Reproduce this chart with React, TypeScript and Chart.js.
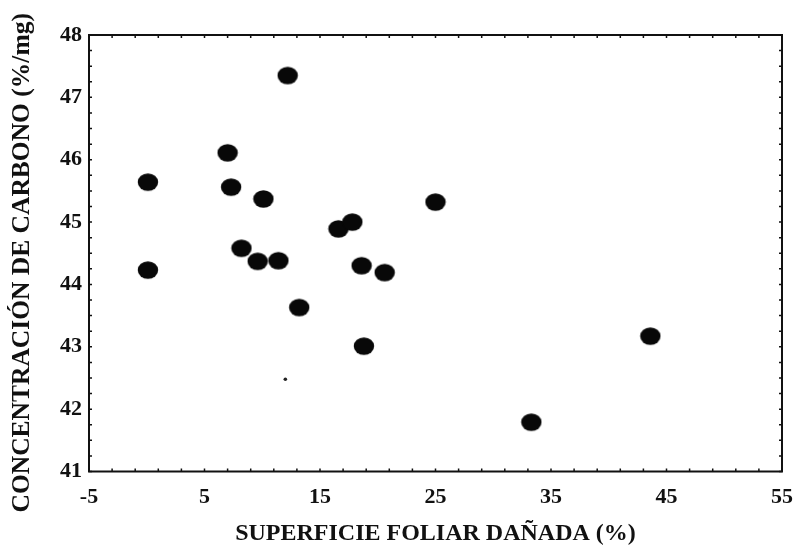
import React, { useEffect, useRef } from "react";
import { Chart, registerables } from "chart.js";

Chart.register(...registerables);

// Data
const damagedLeafArea: number[] = [12.2, 7.0, 0.1, 7.3, 10.1, 16.6, 17.8, 8.2, 9.6, 11.4, 18.6, 20.6, 0.1, 13.2, 18.8, 25.0, 43.6, 33.3];
const carbonConcentration: number[] = [47.35, 46.11, 45.64, 45.56, 45.37, 44.89, 45.0, 44.58, 44.37, 44.38, 44.3, 44.19, 44.23, 43.63, 43.01, 45.32, 43.17, 41.79];
const smallDotX: number[] = [12.0];
const smallDotY: number[] = [42.48];

const xTickLabels: number[] = [-5, 5, 15, 25, 35, 45, 55];
const yTickLabels: number[] = [41, 42, 43, 44, 45, 46, 47, 48];

const xTitle = "SUPERFICIE FOLIAR DAÑADA (%)";
const yTitle = "CONCENTRACIÓN DE CARBONO (%/mg)   ";

const FONT = "'Liberation Serif', 'Times New Roman', serif";
const INK = "#111111";

function makeEllipse(): HTMLCanvasElement {
  const c = document.createElement("canvas");
  c.width = 22;
  c.height = 20;
  const g = c.getContext("2d")!;
  g.fillStyle = "#080808";
  g.beginPath();
  g.ellipse(11, 10, 10.2, 8.8, 0, 0, Math.PI * 2);
  g.fill();
  return c;
}

const frameAndTicks = {
  id: "frameAndTicks",
  afterDraw(chart: any) {
    const { ctx, chartArea } = chart;
    const xs = chart.scales.x;
    const ys = chart.scales.y;
    const { left, right, top, bottom } = chartArea;
    ctx.save();
    ctx.strokeStyle = INK;
    ctx.lineWidth = 2;
    ctx.strokeRect(left, top, right - left, bottom - top);
    ctx.lineWidth = 1.5;
    ctx.beginPath();
    for (let v = xs.min; v <= xs.max + 1e-9; v += 2) {
      const px = xs.getPixelForValue(v);
      ctx.moveTo(px, bottom);
      ctx.lineTo(px, bottom - 3);
      ctx.moveTo(px, top);
      ctx.lineTo(px, top + 3);
    }
    for (let v = ys.min; v <= ys.max + 1e-9; v += 0.25) {
      const py = ys.getPixelForValue(v);
      ctx.moveTo(left, py);
      ctx.lineTo(left + 3, py);
      ctx.moveTo(right, py);
      ctx.lineTo(right - 3, py);
    }
    ctx.stroke();
    ctx.restore();
  },
};

export default function App() {
  const ref = useRef<HTMLCanvasElement | null>(null);

  useEffect(() => {
    if (!ref.current) return;
    const ellipse = makeEllipse();
    const mainPts = damagedLeafArea.map((x, i) => ({ x, y: carbonConcentration[i] }));
    const dotPts = smallDotX.map((x, i) => ({ x, y: smallDotY[i] }));
    const chart = new Chart(ref.current, {
      type: "scatter",
      data: {
        datasets: [
          {
            data: mainPts,
            pointStyle: ellipse as any,
            backgroundColor: "#080808",
            borderColor: "#080808",
          },
          {
            data: dotPts,
            pointStyle: "circle",
            pointRadius: 1.8,
            backgroundColor: "#222",
            borderColor: "#222",
            borderWidth: 0,
          },
        ],
      },
      plugins: [frameAndTicks],
      options: {
        animation: false,
        responsive: false,
        devicePixelRatio: 1,
        layout: { padding: { top: 35, right: 13, left: 0, bottom: 0 } },
        plugins: {
          legend: { display: false },
          tooltip: { enabled: false },
        },
        scales: {
          x: {
            type: "linear",
            min: -5,
            max: 55,
            afterBuildTicks: (scale: any) => {
              scale.ticks = xTickLabels.map((v) => ({ value: v }));
            },
            afterFit: (scale: any) => {
              scale.height = 77.5;
              scale.paddingLeft = 0;
              scale.paddingRight = 0;
            },
            grid: { display: false, drawTicks: false },
            border: { display: false },
            ticks: {
              padding: 13,
              color: INK,
              font: { family: FONT, size: 22, weight: "bold" },
              maxRotation: 0,
              callback: (v: any) => String(v),
            },
            title: {
              display: true,
              text: xTitle,
              color: INK,
              font: { family: FONT, size: 24, weight: "bold" },
              padding: { top: 0, bottom: 0.5 },
            },
          },
          y: {
            type: "linear",
            min: 41,
            max: 48,
            afterBuildTicks: (scale: any) => {
              scale.ticks = yTickLabels.map((v) => ({ value: v }));
            },
            afterFit: (scale: any) => {
              scale.width = 89;
              scale.paddingTop = 0;
              scale.paddingBottom = 0;
            },
            grid: { display: false, drawTicks: false },
            border: { display: false },
            ticks: {
              padding: 7,
              color: INK,
              font: { family: FONT, size: 22, weight: "bold" },
              callback: (v: any) => String(v),
            },
            title: {
              display: true,
              text: yTitle,
              color: INK,
              font: { family: FONT, size: 25.5, weight: "bold" },
              padding: { top: 7, bottom: 0 },
            },
          },
        },
      },
    });
    return () => chart.destroy();
  }, []);

  return (
    <div style={{ position: "fixed", left: 0, top: 0, width: 795, height: 549, background: "#fff" }}>
      <canvas ref={ref} width={795} height={549} style={{ display: "block" }} />
    </div>
  );
}
